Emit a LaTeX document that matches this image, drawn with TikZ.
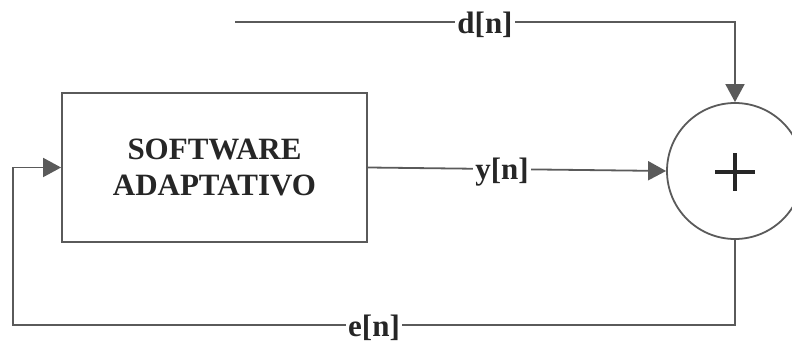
\documentclass[tikz,border=0pt]{standalone}
\usepackage{fontspec}
\setmainfont{Liberation Serif}
\usetikzlibrary{arrows.meta}
\definecolor{wire}{HTML}{5A5A5A}
\definecolor{ink}{HTML}{262626}
\begin{document}
\begin{tikzpicture}[x=1pt,y=1pt,
  wire/.style={draw=wire,line width=1.8pt},
  arr/.style={wire,-{Triangle[length=18pt,width=19pt]}},
  lbl/.style={fill=white,inner sep=2pt,yshift=-3pt,text=ink,font=\bfseries\fontsize{31}{34}\selectfont},
  block/.style={draw=wire,line width=1.8pt,minimum width=305,minimum height=149,align=center,
    text=ink,font=\bfseries\fontsize{31}{36}\selectfont},
  summer/.style={circle,draw=wire,line width=1.8pt,minimum size=136,inner sep=0pt},
  plusbar/.style={draw=ink,line width=3.5pt}]
\useasboundingbox (0,0) rectangle (792,344);
\node[block] (sw) at (214.5,176.5) {SOFTWARE\\ADAPTATIVO};
\node[summer] (sum) at (735,173) {};
% plus sign inside the summer
\draw[plusbar] (sum.center) ++(-20,-1) -- ++(40,0);
\draw[plusbar] (sum.center) ++(0,-20) -- ++(0,38);
\coordinate (din) at (235,322);
\coordinate (dturn) at (735,322);
\coordinate (ebr) at (735,19);
\coordinate (ebl) at (13,19);
% desired signal into the summer
\draw[arr] (din) -- (dturn) -- (sum.north);
\node[lbl] (dl) at (485,322) {d[n]};
% filter output into the summer
\draw[arr] (sw.east) -- (sum.west) node[lbl,pos=0.45] (yl) {y[n]};
% error fed back to the adaptive block
\draw[arr] (sum.south) -- (ebr) -- (ebl) |- (sw.west);
\node[lbl] (el) at (374,19) {e[n]};
\end{tikzpicture}
\end{document}
